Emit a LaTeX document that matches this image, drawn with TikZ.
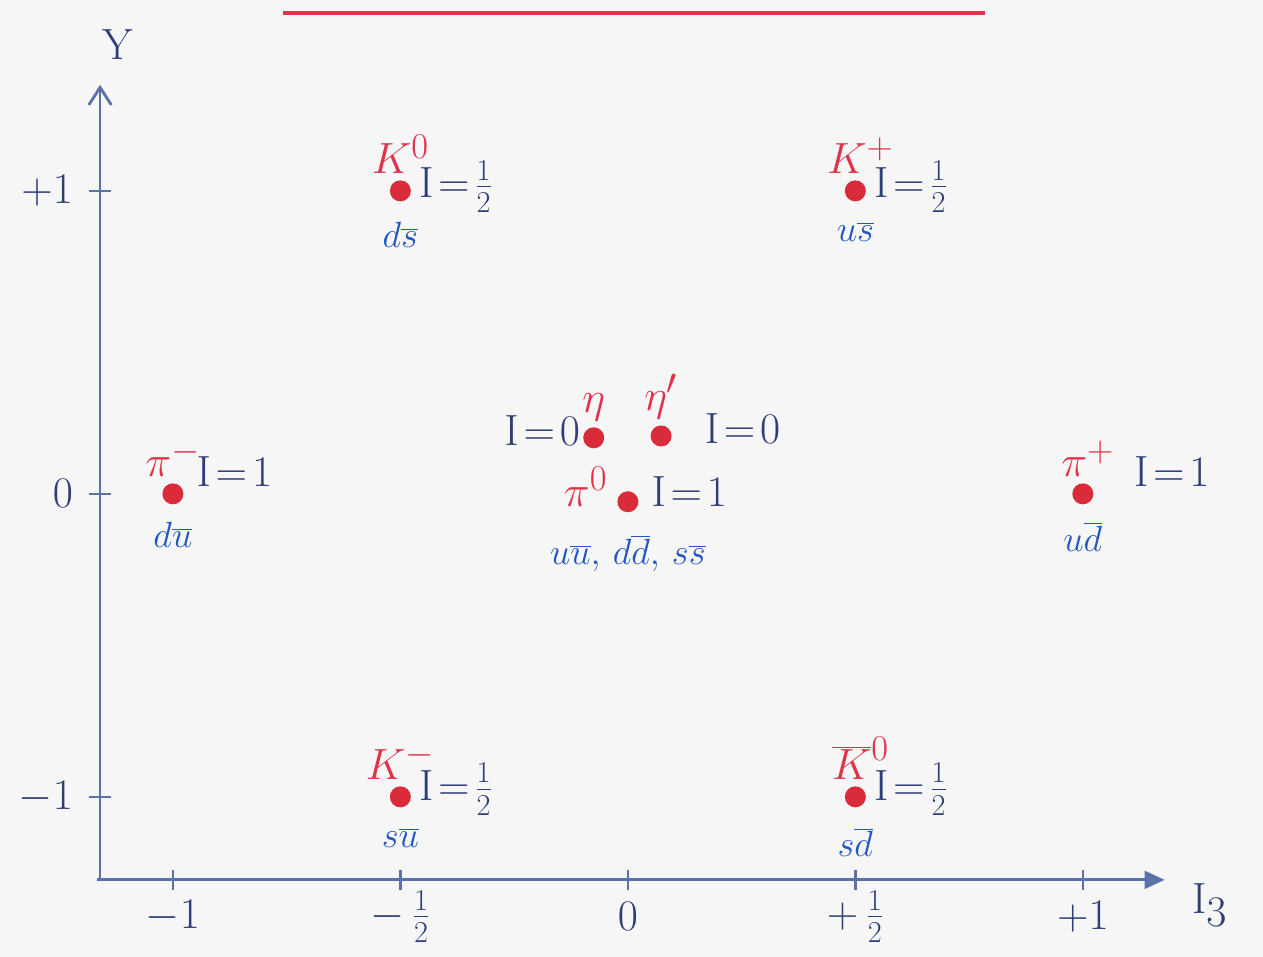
\documentclass[tikz,border=0pt]{standalone}
\usepackage{tikz}
\usetikzlibrary{positioning, arrows.meta}
\definecolor{dotred}{HTML}{D92B3A}
\definecolor{namered}{HTML}{E0334A}
\definecolor{isoblue}{HTML}{2E3F78}
\definecolor{quarkblue}{HTML}{2356C4}
\definecolor{axisblue}{HTML}{5A72A8}
\definecolor{paper}{HTML}{F6F6F6}
\newcommand{\aq}[1]{\overline{#1}}

\begin{document}
\begin{tikzpicture}[
  x=9.1cm, y=6.06cm,
  meson/.style={circle, fill=dotred, inner sep=0pt, minimum size=0.42cm},
  pname/.style={text=namered, font=\fontsize{28}{32}\selectfont, inner sep=1pt},
  iso/.style={text=isoblue, font=\fontsize{24}{28}\selectfont, inner sep=0pt},
  quark/.style={text=quarkblue, font=\fontsize{21}{24}\selectfont, inner sep=0pt},
  axisline/.style={draw=axisblue, line width=1.6pt},
  tickmark/.style={draw=axisblue, line width=1.4pt},
  ticklab/.style={text=isoblue, font=\fontsize{27}{30}\selectfont, inner sep=1pt},
  node distance=0.08cm and 0.15cm
]
  % paper and frame
  \fill[paper] (-1.380,-1.528) rectangle (1.396,1.630);
  \useasboundingbox (-1.380,-1.528) rectangle (1.396,1.630);

  % title underline (title itself is cut off)
  \coordinate (tl) at (-0.758,1.587);
  \coordinate (tr) at (0.785,1.587);
  \draw[namered, line width=2.4pt] (tl) -- (tr);

  % axes
  \coordinate (orig) at (-1.160,-1.274);
  \coordinate (ytop) at (-1.160,1.350);
  \coordinate (xend) at (1.180,-1.274);
  \draw[axisline, -{Straight Barb[length=0.35cm, width=0.45cm]}] (orig) -- (ytop);
  \draw[axisline, -{Triangle[length=0.4cm, width=0.35cm]}] ([xshift=-0.06cm]orig) -- (xend);
  \node[text=isoblue, font=\fontsize{32}{36}\selectfont] (ylab) at (-1.121,1.482) {$\mathrm{Y}$};
  \node[text=isoblue, font=\fontsize{38}{42}\selectfont] (xlab) at (1.279,-1.356) {$\mathrm{I}_3$};

  % ticks on I3
  \foreach \x/\lab in {-1/{$-1$}, -0.5/{$-\,\frac{1}{2}$}, 0/{$0$}, 0.5/{$+\,\frac{1}{2}$}, 1/{$+1$}} {
    \draw[tickmark] (\x,-1.241) -- (\x,-1.307);
    \node[ticklab] at (\x,-1.395) {\lab};
  }
  % ticks on Y
  \foreach \y/\lab in {1/{$+1$}, 0/{$0$}, -1/{$-1$}} {
    \draw[tickmark] (-1.184,\y) -- (-1.136,\y);
    \node[ticklab, anchor=east] at (-1.215,\y) {\lab};
  }

  % K0
  \node[meson] (k0) at (-0.5,1) {};
  \node[pname, above=of k0] (k0n) {$K^0$};
  \node[iso, anchor=west] (k0i) at ([xshift=0.15cm, yshift=0.08cm]k0.east) {$\mathrm{I}\!=\!\frac{1}{2}$};
  \node[quark, below=0.4cm of k0] (k0q) {$d\aq{s}$};

  % K+
  \node[meson] (kp) at (0.5,1) {};
  \node[pname, above=of kp, xshift=0.1cm] (kpn) {$K^+$};
  \node[iso, anchor=west] (kpi) at ([xshift=0.15cm, yshift=0.08cm]kp.east) {$\mathrm{I}\!=\!\frac{1}{2}$};
  \node[quark, below=0.4cm of kp] (kpq) {$u\aq{s}$};

  % pi-
  \node[meson] (pim) at (-1,0) {};
  \node[pname, above=of pim] (pimn) {$\pi^-$};
  \node[iso, anchor=west] (pimi) at ([xshift=0.25cm, yshift=0.45cm]pim.east) {$\mathrm{I}\!=\!1$};
  \node[quark, below=0.35cm of pim] (pimq) {$d\aq{u}$};

  % pi+
  \node[meson] (pip) at (1,0) {};
  \node[pname, above=of pip, xshift=0.1cm] (pipn) {$\pi^+$};
  \node[iso, anchor=west] (pipi) at ([xshift=0.8cm, yshift=0.45cm]pip.east) {$\mathrm{I}\!=\!1$};
  \node[quark, below=0.35cm of pip] (pipq) {$u\aq{d}$};

  % eta and eta'
  \node[meson] (eta) at (-0.075,0.185) {};
  \node[pname, above=of eta] (etan) {$\eta$};
  \node[iso, anchor=east] (etai) at ([xshift=-0.05cm, yshift=0.15cm]eta.west) {$\mathrm{I}\!=\!0$};
  \node[meson] (etap) at (0.073,0.191) {};
  \node[pname, above=of etap] (etapn) {$\eta'$};
  \node[iso, anchor=west] (etapi) at ([xshift=0.65cm, yshift=0.15cm]etap.east) {$\mathrm{I}\!=\!0$};

  % pi0
  \node[meson] (pi0) at (0,-0.026) {};
  \node[pname, anchor=east] (pi0n) at ([xshift=-0.15cm, yshift=0.3cm]pi0.west) {$\pi^0$};
  \node[iso, anchor=west] (pi0i) at ([xshift=0.25cm, yshift=0.2cm]pi0.east) {$\mathrm{I}\!=\!1$};
  \node[quark, below=0.45cm of pi0] (pi0q) {$u\aq{u},\,d\aq{d},\,s\aq{s}$};

  % K-
  \node[meson] (km) at (-0.5,-1) {};
  \node[pname, above=of km] (kmn) {$K^-$};
  \node[iso, anchor=west] (kmi) at ([xshift=0.15cm, yshift=0.15cm]km.east) {$\mathrm{I}\!=\!\frac{1}{2}$};
  \node[quark, below=0.4cm of km] (kmq) {$s\aq{u}$};

  % anti-K0
  \node[meson] (kb0) at (0.5,-1) {};
  \node[pname, above=of kb0, xshift=0.1cm] (kb0n) {$\aq{K}^0$};
  \node[iso, anchor=west] (kb0i) at ([xshift=0.15cm, yshift=0.15cm]kb0.east) {$\mathrm{I}\!=\!\frac{1}{2}$};
  \node[quark, below=0.4cm of kb0] (kb0q) {$s\aq{d}$};
\end{tikzpicture}
\end{document}
